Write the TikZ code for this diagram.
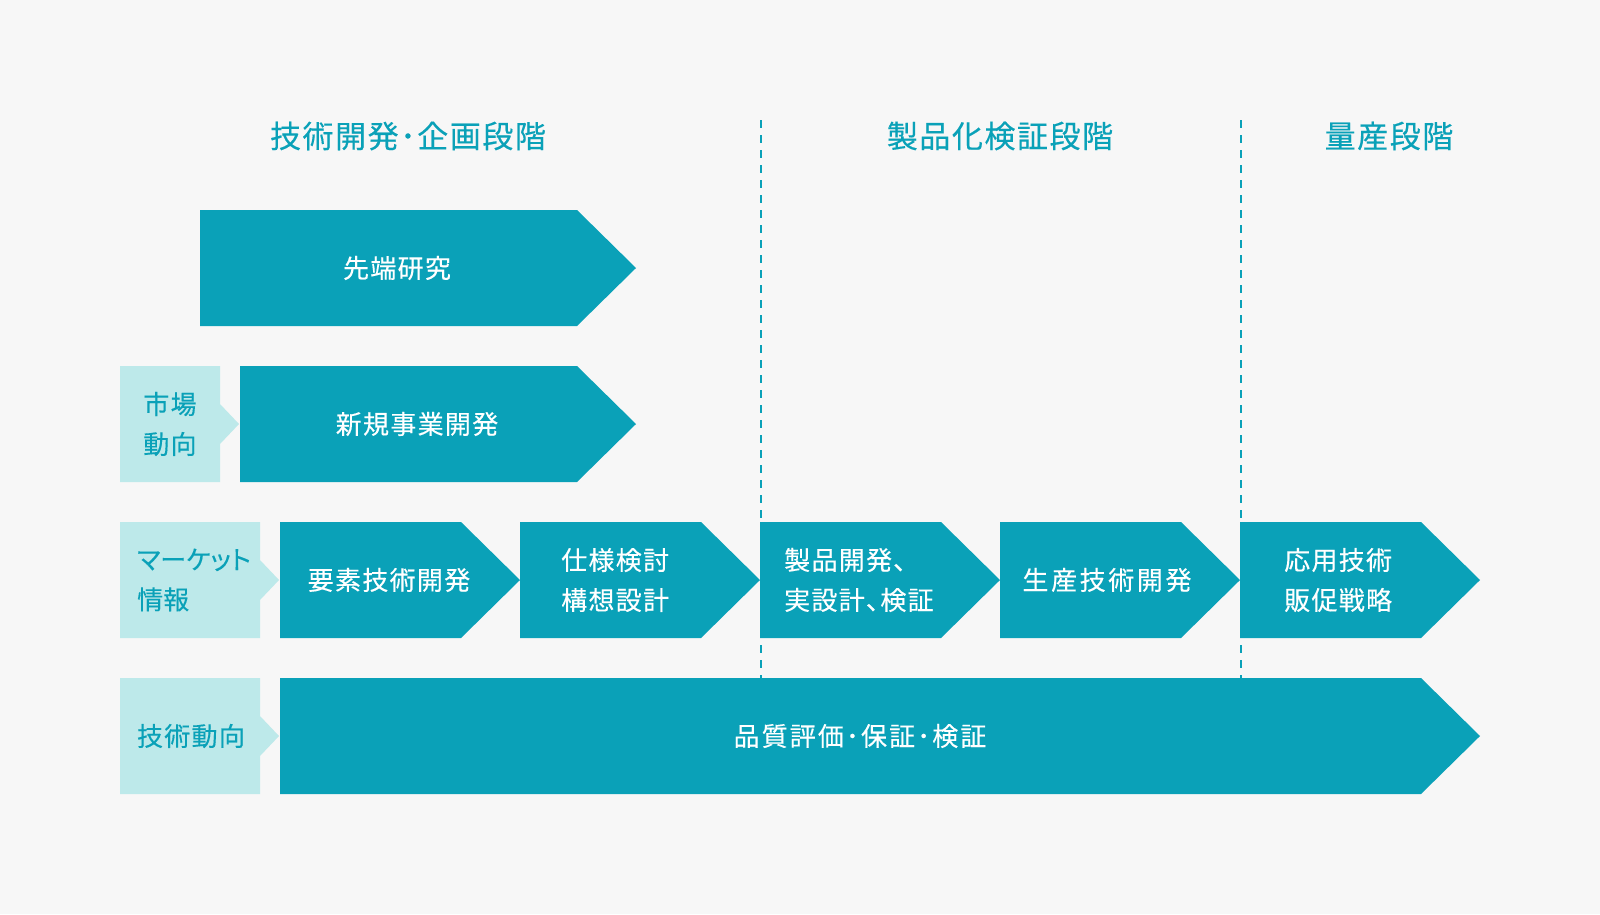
\documentclass[tikz,border=0pt]{standalone}
\usepackage{fontspec}
\newfontfamily\jpt[LetterSpace=5,FakeBold=0.3]{Noto Sans CJK JP}
\newfontfamily\jp[LetterSpace=5,FakeBold=0.3,RawFeature=+palt]{Noto Sans CJK JP}
\newfontfamily\jpn[LetterSpace=0,FakeBold=0.3,RawFeature=+palt]{Noto Sans CJK JP}
\newfontfamily\jpw[LetterSpace=10,FakeBold=0.3,RawFeature=+palt]{Noto Sans CJK JP}
\newfontfamily\jpq[LetterSpace=8,FakeBold=0.3,RawFeature=+palt]{Noto Sans CJK JP}
\definecolor{tealA}{HTML}{0AA1B8}
\definecolor{tealL}{HTML}{BDE9EA}
\definecolor{bgC}{HTML}{F7F7F7}
\newcommand\bigchev[3]{% x start, x tip, y centre
  \fill[tealA] (#1,#3-58) -- (#2-59,#3-58) -- (#2,#3) -- (#2-59,#3+58) -- (#1,#3+58) -- cycle;}
\newcommand\lightbox[2]{% x end, y centre
  \fill[tealL] (120,#2-58) -- (#1,#2-58) -- (#1,#2-20) -- (#1+19,#2) -- (#1,#2+20) -- (#1,#2+58) -- (120,#2+58) -- cycle;}
\tikzset{
  phase/.style={inner sep=0pt, text=tealA, font=\jpt\fontsize{31}{36}\selectfont},
  wtxt/.style={inner sep=0pt, text=white, align=left, font=\jp\fontsize{26}{40}\selectfont},
  wtxtw/.style={inner sep=0pt, text=white, align=left, font=\jpw\fontsize{26}{40}\selectfont},
  ltxt/.style={inner sep=0pt, text=tealA, align=left, font=\jp\fontsize{26}{40}\selectfont},
  phaseline/.style={draw=tealA, line width=2pt, dash pattern=on 8pt off 7pt}
}
\begin{document}
\begin{tikzpicture}[x=1pt,y=-1pt]
\fill[bgC] (0,0) rectangle (1600,914);
\useasboundingbox (0,0) rectangle (1600,914);
% phase separators
\coordinate (d1a) at (761,120); \coordinate (d1b) at (761,678);
\coordinate (d2a) at (1241,120); \coordinate (d2b) at (1241,678);
\draw[phaseline] (d1a) -- (d1b);
\draw[phaseline] (d2a) -- (d2b);
% phase titles
\node[phase] (p1) at (408,136) {技術開発･企画段階};
\node[phase] (p2) at (1000,136) {製品化検証段階};
\node[phase] (p3) at (1389,136) {量産段階};
% row 1
\bigchev{200}{636}{268}
\node[wtxt] (r1) at (397,268) {先端研究};
% row 2
\lightbox{220}{424}
\bigchev{240}{636}{424}
\node[ltxt] (l2) at (170,424) {市場\\動向};
\node[wtxt] (r2) at (417,424) {新規事業開発};
% row 3
\lightbox{260}{580}
\bigchev{280}{520}{580}
\bigchev{520}{760}{580}
\bigchev{760}{1000}{580}
\bigchev{1000}{1240}{580}
\bigchev{1240}{1480}{580}
\node[ltxt,anchor=west,font=\jpn\fontsize{26}{40}\selectfont] (l3) at (137,580) {マーケット\\情報};
\node[wtxt] (r3a) at (389,580) {要素技術開発};
\node[wtxt,anchor=west] (r3b) at (561,580) {仕様検討\\構想設計};
\node[wtxt,anchor=west] (r3c) at (784,580) {製品開発、\\実設計、検証};
\node[wtxtw] (r3d) at (1107,580) {生産技術開発};
\node[wtxt,anchor=west] (r3e) at (1284,580) {応用技術\\販促戦略};
% row 4
\lightbox{260}{736}
\bigchev{280}{1480}{736}
\node[ltxt] (l4) at (191,736) {技術動向};
\node[wtxtw,font=\jpq\fontsize{26}{40}\selectfont] (r4) at (860,736) {品質評価･保証･検証};
\end{tikzpicture}
\end{document}
